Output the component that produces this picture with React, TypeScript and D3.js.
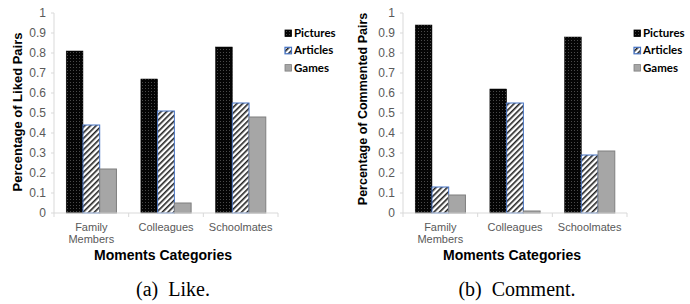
import React from 'react';
import * as d3 from 'd3';

const categories = ['Family Members', 'Colleagues', 'Schoolmates'];
const seriesNames = ['Pictures', 'Articles', 'Games'];

// (a) Like
const likePictures = [0.81, 0.67, 0.83];
const likeArticles = [0.44, 0.51, 0.55];
const likeGames = [0.22, 0.05, 0.48];

// (b) Comment
const commentPictures = [0.94, 0.62, 0.88];
const commentArticles = [0.13, 0.55, 0.29];
const commentGames = [0.09, 0.01, 0.31];

const yTicks = [0, 0.1, 0.2, 0.3, 0.4, 0.5, 0.6, 0.7, 0.8, 0.9, 1];

const fills = ['url(#dots)', 'url(#stripes)', '#a6a6a6'];
const strokes = ['#000', '#4472c4', '#7f7f7f'];

const font = 'Liberation Sans, Arial, sans-serif';

function BarChart({ x0, yTitle, titleSize, titleX, titleY, series, legendX, caption, captionX }) {
  const top = 13, bottom = 213;
  const width = 224;

  const x = d3.scaleBand().domain(categories).range([x0, x0 + width]);
  const xs = d3.scaleBand().domain(seriesNames).range([0, x.bandwidth()]).paddingOuter(0.73);
  const y = d3.scaleLinear().domain([0, 1]).range([bottom, top]);

  const edges = categories.map((c) => x(c)).concat([x0 + width]);

  return (
    <g>
      <line x1={x0} x2={x0} y1={top} y2={bottom} stroke="#d9d9d9" />
      {yTicks.map((t) => (
        <g key={t}>
          <line x1={x0 - 3} x2={x0} y1={y(t)} y2={y(t)} stroke="#d9d9d9" />
          <text x={x0 - 8} y={y(t)} dy="0.35em" textAnchor="end" fontSize={12} fill="#595959" fontFamily={font}>
            {d3.format('')(t)}
          </text>
        </g>
      ))}
      {seriesNames.map((s, si) =>
        categories.map((c, ci) => (
          <rect
            key={s + c}
            x={x(c) + xs(s)}
            y={y(series[si][ci])}
            width={xs.bandwidth()}
            height={bottom - y(series[si][ci])}
            fill={fills[si]}
            stroke={strokes[si]}
            strokeWidth={si === 0 ? 0.5 : 1}
          />
        ))
      )}
      <line x1={x0} x2={x0 + width} y1={bottom} y2={bottom} stroke="#d9d9d9" />
      {edges.map((e, i) => (
        <line key={i} x1={e} x2={e} y1={bottom} y2={bottom + 4} stroke="#d9d9d9" />
      ))}
      {categories.map((c) => {
        const words = c.split(' ');
        const cx = x(c) + x.bandwidth() / 2;
        return (
          <text key={c} x={cx} y={231} textAnchor="middle" fontSize={11} fill="#595959" fontFamily={font}>
            {words.map((w, i) => (
              <tspan key={w} x={cx} dy={i === 0 ? 0 : 12}>{w}</tspan>
            ))}
          </text>
        );
      })}
      <text
        x={x0 + width / 2 - 3}
        y={260}
        textAnchor="middle"
        fontSize={14}
        fontWeight="bold"
        fontFamily={font}
        textLength={138}
        lengthAdjust="spacingAndGlyphs"
      >
        Moments Categories
      </text>
      <text
        transform={`translate(${titleX},${titleY}) rotate(-90)`}
        textAnchor="middle"
        fontSize={titleSize}
        fontWeight="bold"
        fontFamily={font}
      >
        {yTitle}
      </text>
      {seriesNames.map((s, si) => (
        <g key={s} transform={`translate(${legendX},${33 + si * 17.3})`}>
          <rect x={0} y={-3} width={6.5} height={6.5} fill={fills[si]} stroke={strokes[si]} strokeWidth={si === 1 ? 1.2 : 0.8} />
          <text x={9} y={0} dy="0.36em" fontSize={11.5} fontWeight="bold" fontFamily="Lato, sans-serif">
            {s}
          </text>
        </g>
      ))}
      <text x={captionX} y={296} textAnchor="middle" fontSize={20} fontFamily="Liberation Serif, Times New Roman, serif">
        {caption}
      </text>
    </g>
  );
}

export default function App() {
  return (
    <svg width={690} height={304} style={{ position: 'absolute', left: 0, top: 0, background: '#fff' }}>
      <defs>
        <pattern id="dots" width={3} height={3} patternUnits="userSpaceOnUse">
          <rect width={3} height={3} fill="#050505" />
          <rect x={1} y={1} width={1} height={1} fill="#4a4a4a" />
        </pattern>
        <pattern id="stripes" width={4} height={4} patternUnits="userSpaceOnUse" patternTransform="rotate(45)">
          <rect width={4} height={4} fill="#fff" />
          <rect x={0} y={0} width={1.6} height={4} fill="#222" />
        </pattern>
      </defs>
      <BarChart
        x0={54}
        yTitle="Percentage of Liked Pairs"
        titleSize={13}
        titleX={22}
        titleY={112}
        series={[likePictures, likeArticles, likeGames]}
        legendX={285}
        caption={'(a)\u00a0\u00a0Like.'}
        captionX={173}
      />
      <BarChart
        x0={403}
        yTitle="Percentage of Commented Pairs"
        titleSize={12.5}
        titleX={367}
        titleY={109}
        series={[commentPictures, commentArticles, commentGames]}
        legendX={634}
        caption={'(b)\u00a0\u00a0Comment.'}
        captionX={517}
      />
    </svg>
  );
}
